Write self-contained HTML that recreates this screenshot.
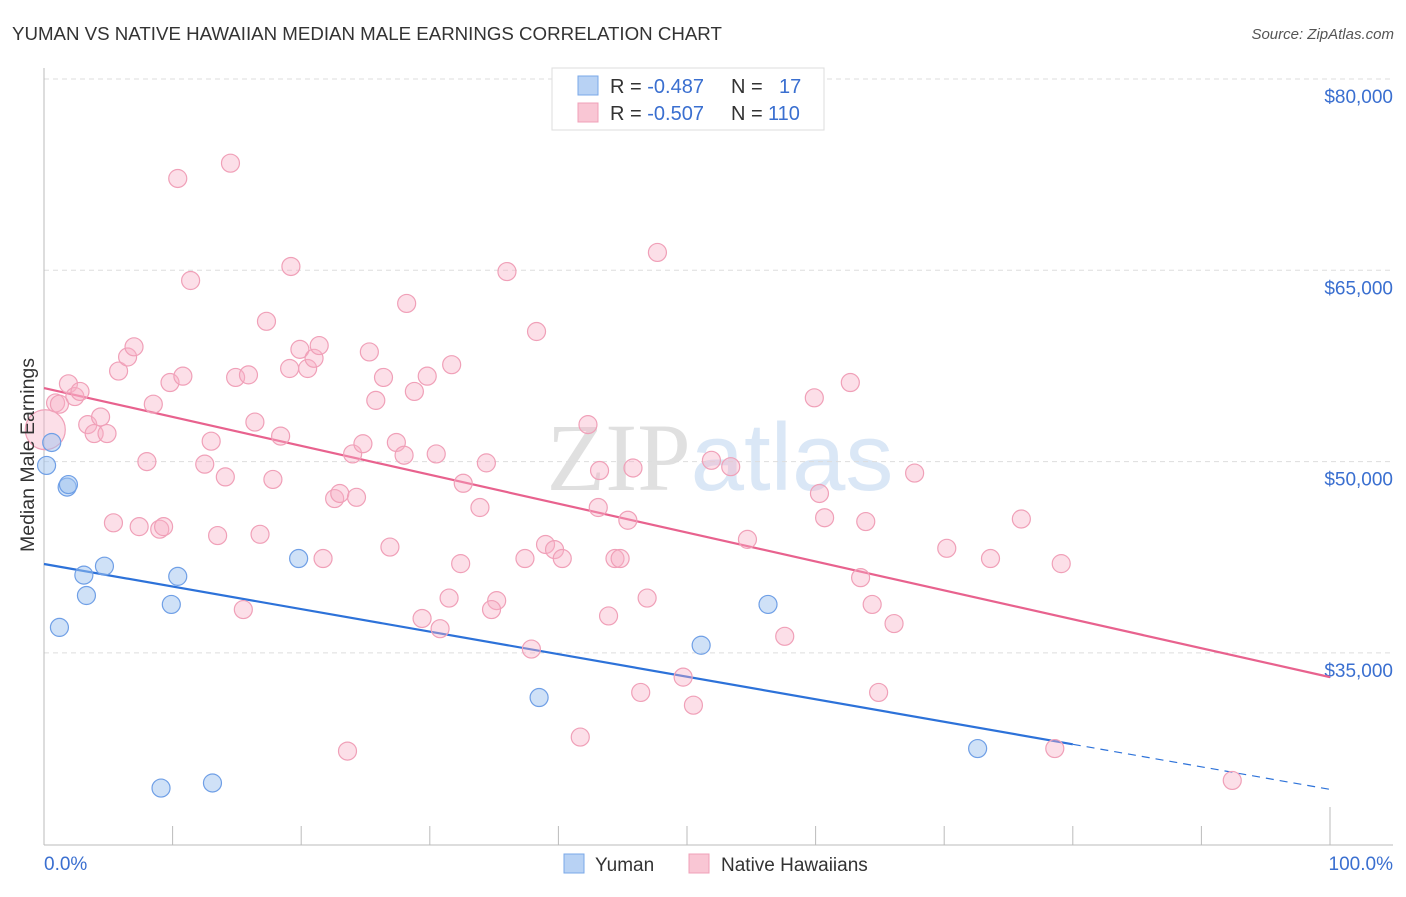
<!DOCTYPE html>
<html><head><meta charset="utf-8"><style>
body{margin:0;background:#fff;font-family:"Liberation Sans",sans-serif}
svg text{font-family:"Liberation Sans",sans-serif}
</style></head><body>
<svg id="chart" width="1406" height="892" viewBox="0 0 1406 892" xmlns="http://www.w3.org/2000/svg">
<text x="12" y="40" font-size="18.7" fill="#333">YUMAN VS NATIVE HAWAIIAN MEDIAN MALE EARNINGS CORRELATION CHART</text>
<text x="1394" y="39" font-size="15" fill="#555" font-style="italic" text-anchor="end">Source: ZipAtlas.com</text>
<text x="720" y="490" font-size="96" text-anchor="middle" fill="#e0e0e0"><tspan font-family="Liberation Serif" fill="#e0e0e0">ZIP</tspan><tspan fill="#dae7f6">atlas</tspan></text>
<g id="grid"></g>
<g id="axes"></g>
<g id="trends"></g>
<g id="pts"></g>
<text transform="translate(34,455) rotate(-90)" font-size="19.5" fill="#333" text-anchor="middle">Median Male Earnings</text>
<g>
<rect x="552" y="68" width="272" height="62" fill="#fff" stroke="#ddd"/>
<rect x="578" y="76" width="20" height="19" fill="#b8d2f4" stroke="#7aa8e8"/>
<rect x="578" y="103" width="20" height="19" fill="#f9c6d4" stroke="#f0a0b8"/>
<text x="610" y="93" font-size="20" fill="#333">R = <tspan fill="#3a6fd0">-0.487</tspan><tspan x="731">N =</tspan><tspan x="779" fill="#3a6fd0">17</tspan></text>
<text x="610" y="120" font-size="20" fill="#333">R = <tspan fill="#3a6fd0">-0.507</tspan><tspan x="731">N =</tspan><tspan x="768" fill="#3a6fd0">110</tspan></text>
</g>
<g>
<rect x="564" y="854" width="20" height="19" fill="#b8d2f4" stroke="#7aa8e8"/>
<text x="595" y="871" font-size="19" fill="#333">Yuman</text>
<rect x="689" y="854" width="20" height="19" fill="#f9c6d4" stroke="#f0a0b8"/>
<text x="721" y="871" font-size="19" fill="#333">Native Hawaiians</text>
</g>
</svg>
<script>
const yTicks=[80000,65000,50000,35000];
const yTickLabels=["$80,000","$65,000","$50,000","$35,000"];
const xTickLabels=["0.0%","100.0%"];
const yumanX=[0.2,0.6,1.8,1.9,3.1,3.3,1.2,4.7,10.4,9.9,19.8,9.1,13.1,38.5,51.1,56.3,72.6];
const yumanY=[49.7,51.5,48.0,48.2,41.1,39.5,37.0,41.8,41.0,38.8,42.4,24.4,24.8,31.5,35.6,38.8,27.5];
const hawX=[0.1,0.9,1.2,1.9,2.4,2.8,3.4,3.9,4.4,4.9,5.8,6.5,7.0,8.0,8.5,7.4,9.0,9.3,5.4,9.8,10.4,10.8,11.4,12.5,13.0,13.5,14.1,14.5,14.9,15.5,15.9,16.4,16.8,17.3,17.8,18.4,19.1,19.2,19.9,20.5,21.0,21.4,21.7,22.6,23.0,23.6,24.0,24.3,24.8,25.3,25.8,26.4,26.9,27.4,28.0,28.2,28.8,29.4,29.8,30.5,30.8,31.5,31.7,32.4,32.6,33.9,34.4,35.2,34.8,36.0,37.4,37.9,38.3,39.0,39.7,40.3,41.7,42.3,43.1,43.2,43.9,44.4,44.8,45.4,45.8,46.4,46.9,47.7,49.7,50.5,51.9,53.4,54.7,57.6,59.9,60.3,60.7,62.7,63.5,63.9,64.4,64.9,66.1,67.7,70.2,73.6,76.0,78.6,79.1,92.4];
const hawY=[52.5,54.6,54.5,56.1,55.1,55.5,52.9,52.2,53.5,52.2,57.1,58.2,59.0,50.0,54.5,44.9,44.7,44.9,45.2,56.2,72.2,56.7,64.2,49.8,51.6,44.2,48.8,73.4,56.6,38.4,56.8,53.1,44.3,61.0,48.6,52.0,57.3,65.3,58.8,57.3,58.1,59.1,42.4,47.1,47.5,27.3,50.6,47.2,51.4,58.6,54.8,56.6,43.3,51.5,50.5,62.4,55.5,37.7,56.7,50.6,36.9,39.3,57.6,42.0,48.3,46.4,49.9,39.1,38.4,64.9,42.4,35.3,60.2,43.5,43.1,42.4,28.4,52.9,46.4,49.3,37.9,42.4,42.4,45.4,49.5,31.9,39.3,66.4,33.1,30.9,50.1,49.6,43.9,36.3,55.0,47.5,45.6,56.2,40.9,45.3,38.8,31.9,37.3,49.1,43.2,42.4,45.5,27.5,42.0,25.0];
const yumanTrend=[41.97,24.3];
const hawTrend=[55.77,33.1];
const NS="http://www.w3.org/2000/svg";
const X=p=>44+p*12.86;
const Y=v=>79+(80-v)*191.3/15;
function mk(tag,attrs,parent){const e=document.createElementNS(NS,tag);for(const k in attrs)e.setAttribute(k,attrs[k]);parent.appendChild(e);return e;}
const grid=document.getElementById('grid'),axes=document.getElementById('axes'),trends=document.getElementById('trends'),pts=document.getElementById('pts');
yTicks.forEach((t,i)=>{const y=Y(t/1000);
const l=mk('line',{x1:44,x2:1393,y1:y,y2:y,stroke:'#ddd','stroke-dasharray':'5,4'},grid);


const tx=mk('text',{x:1393,y:y+24,'font-size':19,fill:'#3a6fd0','text-anchor':'end'},grid);tx.textContent=yTickLabels[i];

});
mk('line',{x1:44,x2:44,y1:68,y2:845,stroke:'#bbb'},axes);
mk('line',{x1:44,x2:1393,y1:845,y2:845,stroke:'#bbb'},axes);
for(let i=1;i<=10;i++){const x=X(i*10);mk('line',{x1:x,x2:x,y1:i==10?807:826,y2:845,stroke:'#bbb'},axes);}
[[0,'start'],[100,'end']].forEach((d,i)=>{const tx=mk('text',{x:i?1393:44,y:870,'font-size':19,fill:'#3a6fd0','text-anchor':d[1]},axes);tx.textContent=xTickLabels[i];

});
const bAt=p=>yumanTrend[0]+(yumanTrend[1]-yumanTrend[0])*p/100;
const b1=mk('line',{x1:X(0),y1:Y(bAt(0)),x2:X(80),y2:Y(bAt(80)),stroke:'#2d72d9','stroke-width':2.2},trends);


const b2=mk('line',{x1:X(80),y1:Y(bAt(80)),x2:X(100),y2:Y(bAt(100)),stroke:'#2d72d9','stroke-width':1.2,'stroke-dasharray':'8,6'},trends);


hawX.forEach((x,i)=>{const r=i==0?20:9;const c=mk('circle',{cx:X(x),cy:Y(hawY[i]),r:r,fill:'rgba(248,176,198,0.4)',stroke:'#f0a0b8','stroke-width':1.2},pts);

});
yumanX.forEach((x,i)=>{const c=mk('circle',{cx:X(x),cy:Y(yumanY[i]),r:9,fill:'rgba(160,195,240,0.5)',stroke:'#6f9fe6','stroke-width':1.2},pts);

});
const p1=mk('line',{x1:X(0),y1:Y(hawTrend[0]),x2:X(100),y2:Y(hawTrend[1]),stroke:'#e8628e','stroke-width':2.2},trends);


</script>
</body></html>
